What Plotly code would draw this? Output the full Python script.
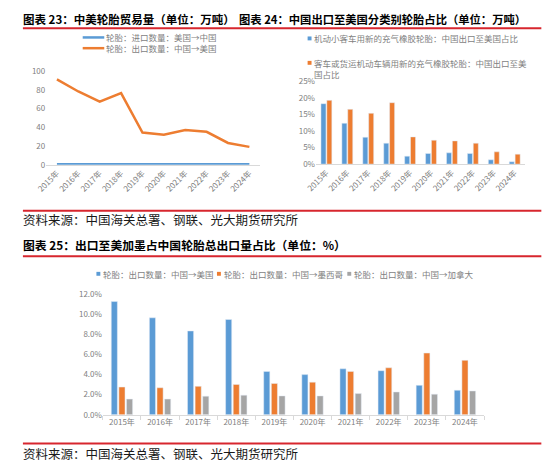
import plotly.graph_objects as go

W, H = 550, 473

years = ['2015年', '2016年', '2017年', '2018年', '2019年',
         '2020年', '2021年', '2022年', '2023年', '2024年']

# 图表23: 中美轮胎贸易量（万吨）
import_names = '轮胎：进口数量：美国→中国'
export_names = '轮胎：出口数量：中国→美国'
import_us_cn = [0.5, 0.5, 0.6, 0.6, 0.5, 0.5, 0.6, 0.6, 0.6, 0.6]
export_cn_us = [91.3, 78.4, 67.6, 76.7, 34.5, 32.0, 37.2, 35.2, 23.3, 19.1]

# 图表24: 中国出口至美国分类别轮胎占比（%）
car_name = '机动小客车用新的充气橡胶轮胎：中国出口至美国占比'
bus_name = '客车或货运机动车辆用新的充气橡胶轮胎：中国出口至美<br>国占比'
car_share = [18.2, 12.3, 8.1, 6.3, 2.4, 3.2, 3.4, 3.2, 1.3, 0.7]
bus_share = [19.2, 16.5, 15.3, 18.5, 8.2, 7.2, 7.0, 6.3, 3.7, 3.0]

# 图表25: 出口至美加墨占中国轮胎总出口量占比（%）
share_names = ['轮胎：出口数量：中国→美国', '轮胎：出口数量：中国→墨西哥', '轮胎：出口数量：中国→加拿大']
share_us = [11.28, 9.66, 8.35, 9.49, 4.32, 4.00, 4.58, 4.39, 2.93, 2.44]
share_mx = [2.76, 2.69, 2.83, 3.02, 3.12, 3.25, 4.32, 4.68, 6.15, 5.42]
share_ca = [1.56, 1.56, 1.85, 1.95, 1.88, 1.88, 2.11, 2.27, 2.05, 2.37]

BLUE, ORANGE, GRAY = '#5b9bd5', '#ed7d31', '#a5a5a5'
RED = '#d7262e'
FONT = 'Noto Sans CJK SC'
TICK = '#808080'
OFF = 8  # page body margin


def fx(x):
    return (x - OFF) / W


def fy(y):
    return 1 - (y - OFF) / H


fig = go.Figure()

# chart 23 lines
fig.add_trace(go.Scatter(x=years, y=import_us_cn, mode='lines', name=import_names,
                         line=dict(color=BLUE, width=2.5), xaxis='x', yaxis='y'))
fig.add_trace(go.Scatter(x=years, y=export_cn_us, mode='lines', name=export_names,
                         line=dict(color=ORANGE, width=2.5), xaxis='x', yaxis='y'))

# chart 24 bars
fig.add_trace(go.Bar(x=years, y=car_share, marker_color=BLUE, width=0.24, offset=-0.26,
                     xaxis='x2', yaxis='y2'))
fig.add_trace(go.Bar(x=years, y=bus_share, marker_color=ORANGE, width=0.24, offset=0.02,
                     xaxis='x2', yaxis='y2'))

# chart 25 bars
for vals, col, off in [(share_us, BLUE, -0.28), (share_mx, ORANGE, -0.08), (share_ca, GRAY, 0.12)]:
    fig.add_trace(go.Bar(x=years, y=vals, marker_color=col, width=0.16, offset=off,
                         xaxis='x3', yaxis='y3'))

tickfont = dict(family=FONT, size=8, color=TICK)
xcommon = dict(type='category', range=[-0.5, 9.5], showline=True, linecolor='#d9d9d9',
               linewidth=1, showgrid=False, zeroline=False, tickfont=tickfont)
ycommon = dict(showgrid=False, zeroline=False, showline=False, tickfont=tickfont)

fig.update_layout(
    width=W, height=H,
    margin=dict(l=0, r=0, t=0, b=0),
    paper_bgcolor='white', plot_bgcolor='white',
    showlegend=False,
    font=dict(family=FONT),
    xaxis=dict(xcommon, domain=[fx(35.8), fx(254)], anchor='y', tickangle=-45),
    yaxis=dict(ycommon, domain=[fy(162.3), fy(66.7)], anchor='x', range=[0, 100], dtick=20),
    xaxis2=dict(xcommon, domain=[fx(311), fx(524.5)], anchor='y2', tickangle=-45),
    yaxis2=dict(ycommon, domain=[fy(161.7), fy(76.7)], anchor='x2', range=[0, 25], dtick=5,
                ticksuffix='%'),
    xaxis3=dict(xcommon, domain=[fx(93.6), fx(482.5)], anchor='y3', tickangle=0,
                ticks='outside', tickson='boundaries', ticklen=4, tickcolor='#d9d9d9'),
    yaxis3=dict(ycommon, domain=[fy(418.3), fy(295)], anchor='x3', range=[0, 12], dtick=2,
                tickformat='.1f', ticksuffix='%'),
)

shapes = []
# red rules
for y in [22.5, 209.5, 256, 447.7]:
    shapes.append(dict(type='line', xref='paper', yref='paper', x0=fx(12), x1=fx(541),
                       y0=fy(y), y1=fy(y), line=dict(color=RED, width=2)))
# legend symbols chart 23
shapes.append(dict(type='line', xref='paper', yref='paper', x0=fx(73), x1=fx(95),
                   y0=fy(32), y1=fy(32), line=dict(color=BLUE, width=2.5)))
shapes.append(dict(type='line', xref='paper', yref='paper', x0=fx(73), x1=fx(95),
                   y0=fy(43), y1=fy(43), line=dict(color=ORANGE, width=2.5)))


def square(x, y, col, s=4):
    return dict(type='rect', xref='paper', yref='paper', x0=fx(x - s / 2), x1=fx(x + s / 2),
                y0=fy(y + s / 2), y1=fy(y - s / 2), fillcolor=col, line=dict(width=0))


shapes.append(square(304.5, 33, BLUE))
shapes.append(square(304.5, 58, ORANGE))
shapes.append(square(89, 274, BLUE))
shapes.append(square(212, 274, ORANGE))
shapes.append(square(345, 274, GRAY))
fig.update_layout(shapes=shapes)

ann = []


def text(x, y, s, size=8.5, color='#7f7f7f', bold=False, yanchor='middle'):
    ann.append(dict(x=fx(x), y=fy(y), xref='paper', yref='paper', text=s, showarrow=False,
                    xanchor='left', yanchor=yanchor, align='left',
                    font=dict(family=FONT, size=size, color=color,
                              weight='bold' if bold else 'normal')))


text(10, 13, '图表 23：中美轮胎贸易量（单位：万吨）', size=11.5, color='#000000', bold=True)
text(230, 13, '图表 24：中国出口至美国分类别轮胎占比（单位：万吨）', size=11.3, color='#000000', bold=True)
text(10, 244, '图表 25：出口至美加墨占中国轮胎总出口量占比（单位：%）', size=11.8, color='#000000', bold=True)
text(10, 218.5, '资料来源：中国海关总署、钢联、光大期货研究所', size=12.5, color='#1a1a1a')
text(10, 458, '资料来源：中国海关总署、钢联、光大期货研究所', size=12.5, color='#1a1a1a')

text(95, 32, import_names)
text(95, 43, export_names)
text(307, 33, car_name)
text(307, 64, bus_name)
text(92, 274, share_names[0])
text(215, 274, share_names[1])
text(348, 274, share_names[2])

fig.update_layout(annotations=ann)

fig.write_html("out.html")
